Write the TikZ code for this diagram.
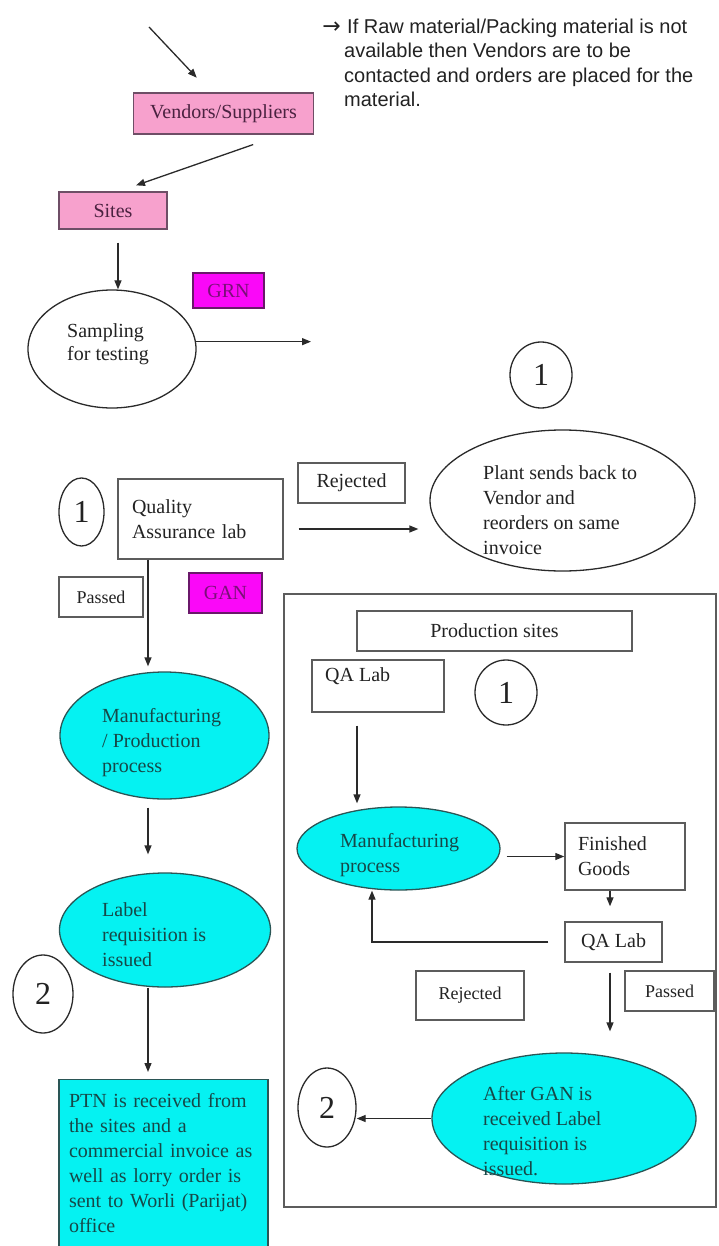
\documentclass[tikz,border=0pt]{standalone}
\usepackage{fontspec}
\setmainfont{Liberation Serif}
\newfontfamily\sansf{Liberation Sans}
\newfontfamily\dejavu{DejaVu Sans}
\usetikzlibrary{shapes.geometric,arrows.meta}

\definecolor{pinkfill}{HTML}{F7A1CD}
\definecolor{pinktext}{HTML}{4A2240}
\definecolor{magfill}{HTML}{FA08F8}
\definecolor{magtext}{HTML}{7A1078}
\definecolor{magline}{HTML}{6A186A}
\definecolor{cyanfill}{HTML}{05F2F2}
\definecolor{cyantext}{HTML}{164848}
\definecolor{cyanline}{HTML}{2A5555}
\definecolor{boxline}{HTML}{5C5C5C}
\definecolor{arrline}{HTML}{2A2A2A}
\definecolor{txtcol}{HTML}{222222}

\tikzset{
 fs/.style={font=\fontsize{20}{25}\selectfont},
 fss/.style={font=\fontsize{18}{22}\selectfont},
 fbig/.style={font=\fontsize{32}{36}\selectfont},
 rbox/.style={rectangle, draw=boxline, line width=1.4pt, inner sep=0pt, fs, text=txtcol},
 pbox/.style={rbox, fill=pinkfill, draw=pinktext!80, text=pinktext},
 mbox/.style={rbox, fill=magfill, draw=magline, text=magtext},
 oval/.style={ellipse, draw=arrline, line width=1.3pt, inner sep=0pt, text=txtcol},
 cell/.style={oval, fill=cyanfill, draw=cyanline},
 num/.style={oval, fbig},
 txt/.style={inner sep=0pt, align=left, fs, text=txtcol},
 arr/.style={draw=arrline, line width=1.3pt, -{Triangle[length=9pt,width=7pt]}},
}

\begin{document}
\begin{tikzpicture}[x=1pt,y=-1pt]
\useasboundingbox (0,0) rectangle (718,1246);
\clip (0,0) rectangle (718,1246);

% helper coordinates
\coordinate (x118) at (118,0);
\coordinate (x148) at (148,0);
\coordinate (x357) at (357,0);
\coordinate (x372) at (372,0);
\coordinate (x610) at (610,0);
\coordinate (y529) at (0,529);
\coordinate (topS) at (149,27);
\coordinate (sampE) at (311,341);

% note
\node[txt, font=\sansf\fontsize{20}{24.3}\selectfont, anchor=north west] (note) at (344,19)
 {\llap{{\dejavu\fontsize{22}{24}\selectfont →}\,}\hspace*{3pt}If Raw material/Packing material is not\\available then Vendors are to be\\contacted and orders are placed for the\\material.};

% top part
\node[pbox, minimum width=180, minimum height=41] (ven) at (223.5,113.5) {Vendors/Suppliers};
\node[pbox, minimum width=108, minimum height=37] (sites) at (113,210.5) {Sites};
\node[mbox, minimum width=71, minimum height=35] (grn) at (228.5,290.5) {GRN};
\node[oval, minimum width=168, minimum height=118] (samp) at (112,349) {};
\node[txt, anchor=north west, font=\fontsize{20}{23}\selectfont] (sampT) at (67,323) {Sampling\\for testing};
\node[num, minimum width=62, minimum height=66] (c1a) at (541,375) {1};

\draw[arr, shorten >=20pt] (topS) -- ([xshift=-13pt]ven.north);
\draw[arr, shorten <=30pt, shorten >=18pt] ([xshift=58pt]ven.south) -- ([xshift=6pt]sites.north);
\draw[arr, shorten <=13pt] (sites.south -| x118) -- (samp.north -| x118);
\draw[arr] (samp.5) -- (samp.5 -| sampE);

% quality assurance
\node[num, minimum width=45, minimum height=68] (c1b) at (81.5,512) {1};
\node[rbox, minimum width=165, minimum height=80, text width=137, align=left] (qa) at (200.5,519) {Quality\\Assurance lab};
\node[rbox, minimum width=107, minimum height=40] (rej1) at (351.5,483) {Rejected};
\node[oval, minimum width=265, minimum height=141] (plant) at (562.5,500.5) {};
\node[txt, anchor=north west] (plantT) at (483,465) {Plant sends back to\\Vendor and\\reorders on same\\invoice};
\draw[arr, shorten <=15pt, shorten >=11pt] (qa.east |- y529) -- (plant.west |- y529);
\node[rbox, fss, minimum width=84, minimum height=40] (pass1) at (101,597) {Passed};
\node[mbox, minimum width=73, minimum height=40] (gan) at (225.5,593) {GAN};

% left column
\node[cell, minimum width=209, minimum height=127] (mfg) at (164.5,735.5) {};
\node[txt, anchor=north west, text=cyantext] (mfgT) at (102,708) {Manufacturing\\/ Production\\process};
\draw[arr, shorten >=5pt] (qa.south -| x148) -- (mfg.north -| x148);
\node[cell, minimum width=211, minimum height=114] (lab) at (165,930) {};
\node[txt, anchor=north west, text=cyantext] (labT) at (102,902) {Label\\requisition is\\issued};
\draw[arr, shorten <=8pt, shorten >=18pt] (mfg.south -| x148) -- (lab.north -| x148);
\node[num, minimum width=60, minimum height=78] (c2a) at (43,994) {2};
\node[rbox, fill=cyanfill, draw=cyanline, text=cyantext, anchor=north, minimum width=209, text width=189, align=left, inner ysep=14pt] (ptn) at (163.5,1079)
 {PTN is received from\\the sites and a\\commercial invoice as\\well as lorry order is\\sent to Worli (Parijat)\\office};
\draw[arr, shorten >=7pt] (lab.south -| x148) -- (ptn.north -| x148);

% right panel
\node[rectangle, draw=boxline, line width=1.5pt, minimum width=432, minimum height=613, inner sep=0pt] (panel) at (500,900.5) {};
\node[rbox, minimum width=275, minimum height=40] (prod) at (494.5,631) {Production sites};
\node[rbox, minimum width=132, minimum height=52] (qa1) at (378,686) {};
\node[txt, anchor=west] (qa1T) at (325,676) {QA Lab};
\node[num, minimum width=62, minimum height=65] (c1c) at (506,692.5) {1};
\node[cell, minimum width=203, minimum height=83] (mp) at (398.5,848.5) {};
\node[txt, anchor=north west, text=cyantext] (mpT) at (340,833) {Manufacturing\\process};
\draw[arr, shorten <=13pt, shorten >=3pt] (qa1.south -| x357) -- (mp.north -| x357);
\node[rbox, minimum width=120, minimum height=67, text width=94, align=left] (fg) at (625,856.5) {Finished\\Goods};
\draw[arr, shorten <=6pt] (mp.east |- fg.west) -- (fg.west);
\node[rbox, minimum width=97, minimum height=40] (qa2) at (613.5,942) {QA Lab};
\draw[arr, shorten >=15pt] (fg.south -| x610) -- (qa2.north -| x610);
\draw[arr, shorten <=16pt] (qa2.west) -| (mp.south -| x372);
\node[rbox, fss, minimum width=108, minimum height=49] (rej2) at (470,995.5) {Rejected};
\node[rbox, fss, minimum width=89, minimum height=40] (pass2) at (669.5,991) {Passed};
\node[cell, minimum width=264, minimum height=131] (ag) at (564,1118.5) {};
\node[txt, anchor=north west, text=cyantext] (agT) at (483,1086) {After GAN is\\received Label\\requisition is\\issued.};
\draw[arr, shorten <=10pt, shorten >=21pt] (qa2.south -| x610) -- (ag.north -| x610);
\node[num, minimum width=58, minimum height=79] (c2b) at (327,1107.5) {2};
\draw[arr] (ag.west) -- (ag.west -| c2b.east);
\end{tikzpicture}
\end{document}
